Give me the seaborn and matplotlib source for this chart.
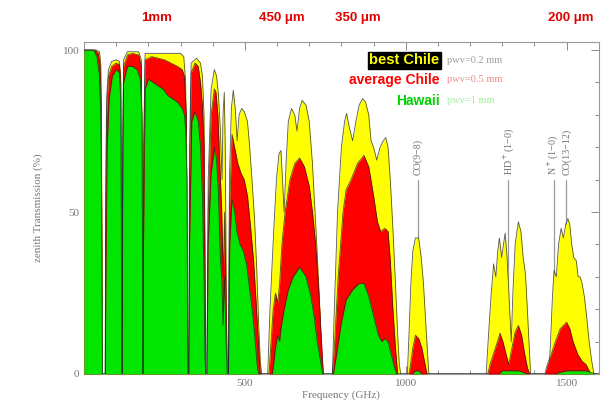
import numpy as np
import pandas as pd
import seaborn as sb
import matplotlib.pyplot as plt
from matplotlib.ticker import MultipleLocator

# ---- datos (frecuencia GHz, transmision %) ----
f_best = [0, 38, 48, 52, 54, 55.5, 56.5, 57, 66, 67, 70, 76, 86, 100, 110, 114, 116, 117, 119, 120, 123, 135,
          170, 178, 181, 182.5, 184, 185, 190, 300, 310, 316, 321, 323, 326, 328, 333, 350, 362, 368, 373, 376,
          378, 382, 386, 395, 405, 412, 418, 424, 429, 432, 436, 439, 442, 445, 449, 452, 458, 464, 470, 476,
          482, 490, 498, 508, 515, 522, 530, 537, 543, 548, 552, 571, 578, 590, 598, 606, 612, 617, 622, 628,
          635, 645, 655, 662, 670, 678, 690, 700, 710, 718, 726, 733, 738, 742, 772, 778, 788, 800, 810, 816,
          825, 835, 845, 855, 866, 875, 885, 892, 900, 910, 920, 930, 938, 945, 952, 960, 968, 975, 980, 984,
          1005, 1010, 1016, 1022, 1030, 1040, 1048, 1055, 1062, 1068, 1072, 1250, 1256, 1265, 1273, 1280, 1286,
          1291, 1298, 1304, 1309, 1315, 1322, 1328, 1333, 1340, 1350, 1358, 1365, 1372, 1378, 1384, 1388, 1445,
          1450, 1456, 1461, 1468, 1475, 1483, 1490, 1497, 1504, 1510, 1516, 1522, 1530, 1536, 1542, 1548, 1555,
          1562, 1570, 1578, 1585, 1600]
t_best = [100, 100, 99.5, 96, 85, 50, 20, 0, 0, 50, 85, 94, 96.5, 97, 96.5, 92, 50, 0, 0, 70, 97, 99.5,
          99.5, 97, 60, 0, 0, 70, 99, 99, 98, 90, 30, 0, 0, 70, 96, 97.5, 96, 92, 80, 40,
          0, 0, 60, 88, 94, 92, 86, 75, 60, 80, 87, 70, 30, 0, 0, 60, 82, 87.6, 82, 72,
          80, 82, 81, 78, 70, 60, 48, 32, 15, 4, 0, 0, 20, 45, 60, 68, 69, 60, 50, 65,
          78, 82, 80, 75, 82, 84.5, 83, 78, 65, 50, 35, 20, 8, 0, 0, 20, 50, 70, 78, 80.5,
          76, 72, 78, 83, 85, 84, 80, 72, 70, 66, 70, 72, 73, 70, 60, 45, 28, 12, 3, 0,
          0, 12, 28, 38, 42, 42, 36, 28, 16, 6, 0, 0, 10, 24, 34, 30, 38,
          42, 36, 40, 43.5, 36, 22, 10, 25, 40, 47, 44, 36, 31, 20, 8, 0, 0,
          10, 24, 32, 30, 40, 45, 42, 46, 48, 46, 40, 36, 35, 30, 30, 28, 24,
          18, 10, 4, 0, 0]

f_avg = [0, 35, 45, 50, 53, 55, 56, 57, 66, 67, 70, 76, 86, 100, 110, 114, 116, 117, 119, 120, 123, 135,
         150, 170, 178, 181, 182.5, 184, 185, 190, 210, 230, 250, 270, 290, 305, 312, 318, 322, 323, 326, 328,
         333, 345, 355, 362, 368, 373, 376, 378, 382, 386, 395, 405, 410, 416, 422, 428, 433, 437, 441, 445,
         449, 452, 460, 468, 478, 488, 498, 508, 518, 527, 535, 542, 548, 575, 580, 588, 595, 602, 608, 615,
         625, 640, 655, 670, 685, 700, 710, 720, 730, 738, 744, 772, 778, 790, 805, 815, 830, 850, 870, 885,
         900, 912, 922, 935, 945, 952, 960, 968, 975, 1010, 1015, 1022, 1030, 1040, 1050, 1058, 1066, 1255,
         1262, 1272, 1285, 1293, 1302, 1312, 1320, 1330, 1340, 1350, 1360, 1370, 1378, 1385, 1432, 1440, 1452,
         1465, 1480, 1500, 1510, 1520, 1535, 1548, 1560, 1575, 1600]
t_avg = [100, 100, 99, 95, 80, 50, 20, 0, 0, 40, 80, 92, 95, 96, 95.5, 90, 50, 0, 0, 60, 95, 98.5,
         99, 98.5, 95, 60, 0, 0, 60, 97, 98, 97.5, 97, 96, 95, 94, 92, 80, 20, 0, 0, 60,
         93, 96, 95, 90, 83, 70, 30, 0, 0, 50, 80, 88, 87, 80, 65, 50, 30, 50, 25, 0,
         0, 50, 74, 70, 65, 62, 60, 55, 45, 35, 22, 10, 0, 0, 8, 20, 25, 22, 28, 40,
         50, 60, 65, 66.7, 64, 58, 50, 40, 25, 10, 0, 0, 8, 30, 50, 57, 60, 65, 67.5, 64,
         55, 47, 44, 45, 44, 35, 20, 8, 0, 0, 3, 8, 12, 11, 8, 4, 0, 0,
         3, 6, 10, 12.6, 10, 6, 3, 8, 13, 15, 12, 6, 2, 0, 0, 3, 6,
         10, 14, 16, 14, 10, 6, 4, 3, 0, 0]

f_hawaii = [0, 30, 40, 48, 52, 54, 56, 57, 66, 68, 72, 78, 88, 100, 110, 114, 116, 117, 119, 120, 123, 135,
            150, 165, 175, 180, 182, 182.5, 184, 185, 190, 200, 215, 230, 245, 260, 275, 290, 305, 312, 316, 320,
            322, 323, 326, 328, 335, 345, 355, 362, 368, 373, 376, 378, 382, 386, 395, 406, 412, 418, 424, 428,
            432, 437, 441, 445, 449, 453, 460, 468, 475, 485, 495, 505, 515, 525, 532, 538, 542, 585, 588, 595,
            602, 608, 612, 622, 635, 650, 670, 690, 705, 715, 725, 735, 742, 775, 785, 800, 815, 835, 855, 870,
            885, 900, 915, 925, 935, 945, 955, 965, 972, 1020, 1030, 1040, 1050, 1290, 1300, 1350, 1380, 1460,
            1500, 1560, 1590, 1600]
t_hawaii = [100, 100, 98, 92, 80, 60, 20, 0, 0, 30, 70, 85, 92, 94, 93, 85, 40, 0, 0, 50, 90, 95,
            95, 94, 91, 80, 30, 0, 0, 40, 88, 91, 90, 89, 88, 86, 85, 84, 82, 80, 75, 60,
            10, 0, 0, 40, 78, 81, 78, 70, 55, 30, 5, 0, 0, 40, 62, 70, 66, 55, 35, 30,
            15, 30, 12, 0, 0, 40, 54, 50, 44, 40, 38, 34, 26, 18, 10, 3, 0, 0, 2, 8,
            12, 10, 14, 20, 26, 30, 33, 30, 24, 18, 10, 4, 0, 0, 6, 16, 23, 26, 28, 28,
            24, 18, 12, 10, 11, 10, 6, 2, 0, 0, 1, 1, 0, 0, 1, 1, 0, 0,
            1, 1, 0, 0]

series = [
    ('best Chile', 'pwv=0.2 mm', f_best, t_best, '#ffff00', '#a0a0a0'),
    ('average Chile', 'pwv=0.5 mm', f_avg, t_avg, '#ff0000', '#f08a8a'),
    ('Hawaii', 'pwv=1 mm', f_hawaii, t_hawaii, '#00e600', '#9ef09e'),
]

wl_labels = ['1mm', '450 \u03bcm', '350 \u03bcm', '200 \u03bcm']
wl_pos = [227, 614, 852, 1514]

line_names = ['CO(9\u22128)', 'HD$^+$(1\u22120)', 'N$^+$(1\u22120)', 'CO(13\u221212)']
line_freqs = [1037, 1319, 1462, 1497]
line_dx = [0, 0, -4, 4]   # pequeno desplazamiento para que no se pisen

sb.set_style('ticks')
plt.rcParams['font.family'] = ['Liberation Serif', 'DejaVu Serif']

fig = plt.figure(figsize=(6.11, 4.09), dpi=100)
ax = fig.add_axes([0.1375, 0.0856, 0.8425, 0.8117])

# lineas moleculares (detras de las curvas)
for fq in line_freqs:
    ax.plot([fq, fq], [0, 60], color='#9a9a9a', lw=0.9, zorder=1)

z = 2
for name, pwv, fx, ty, col, pcol in series:
    ax.fill_between(fx, 0, ty, color=col, lw=0, zorder=z)
    sb.lineplot(x=fx, y=ty, ax=ax, color='#202020', lw=0.6, alpha=0.75, zorder=z + 0.5, sort=False)
    z += 1

ax.set_xlim(0, 1600)
ax.set_ylim(0, 102.5)
ax.xaxis.set_major_locator(MultipleLocator(500))
ax.xaxis.set_minor_locator(MultipleLocator(100))
ax.yaxis.set_major_locator(MultipleLocator(50))
ax.yaxis.set_minor_locator(MultipleLocator(10))
ax.tick_params(which='both', direction='in', top=True, right=True, colors='#8a8a8a',
               labelcolor='#777777', labelsize=8, width=0.7)
ax.tick_params(which='major', length=6)
ax.tick_params(which='minor', length=3)
ax.set_xticks([500, 1000, 1500])
ax.set_yticks([0, 50, 100])
for s in ax.spines.values():
    s.set_color('#9a9a9a')
    s.set_linewidth(0.8)

ax.set_xlabel('Frequency (GHz)', color='#777777', fontsize=8, labelpad=2)
ax.set_ylabel('zenith Transmission (%)', color='#777777', fontsize=8, labelpad=14)

# longitudes de onda arriba
for lab, fq in zip(wl_labels, wl_pos):
    ax.text(fq, 110, lab, color='#e00000', fontsize=9.5, fontweight='bold', ha='center', va='center',
            family=['Liberation Sans', 'DejaVu Sans'], clip_on=False)

# leyenda a mano
ax.text(1105, 96.8, 'best Chile', color='#ffff00', fontsize=10.5, fontweight='bold', ha='right', va='center',
        family=['Liberation Sans', 'DejaVu Sans'], zorder=10,
        bbox=dict(boxstyle='square,pad=0.12', fc='black', ec='black'))
ax.text(1105, 90.8, 'average Chile', color='#ff0000', fontsize=10, fontweight='bold', ha='right', va='center',
        family=['Liberation Sans', 'DejaVu Sans'], zorder=10)
ax.text(1105, 84.3, 'Hawaii', color='#00d000', fontsize=10, fontweight='bold', ha='right', va='center',
        family=['Liberation Sans', 'DejaVu Sans'], zorder=10)
for (name, pwv, fx, ty, col, pcol), yy in zip(series, [96.8, 90.8, 84.3]):
    ax.text(1127, yy, pwv, color=pcol, fontsize=7.5, ha='left', va='center', zorder=10)

for nm, fq, dx in zip(line_names, line_freqs, line_dx):
    ax.text(fq + dx, 61.5, nm, rotation=90, color='#707070', fontsize=7.2, ha='center', va='bottom', zorder=10)

fig.savefig('out.png', dpi=100)
